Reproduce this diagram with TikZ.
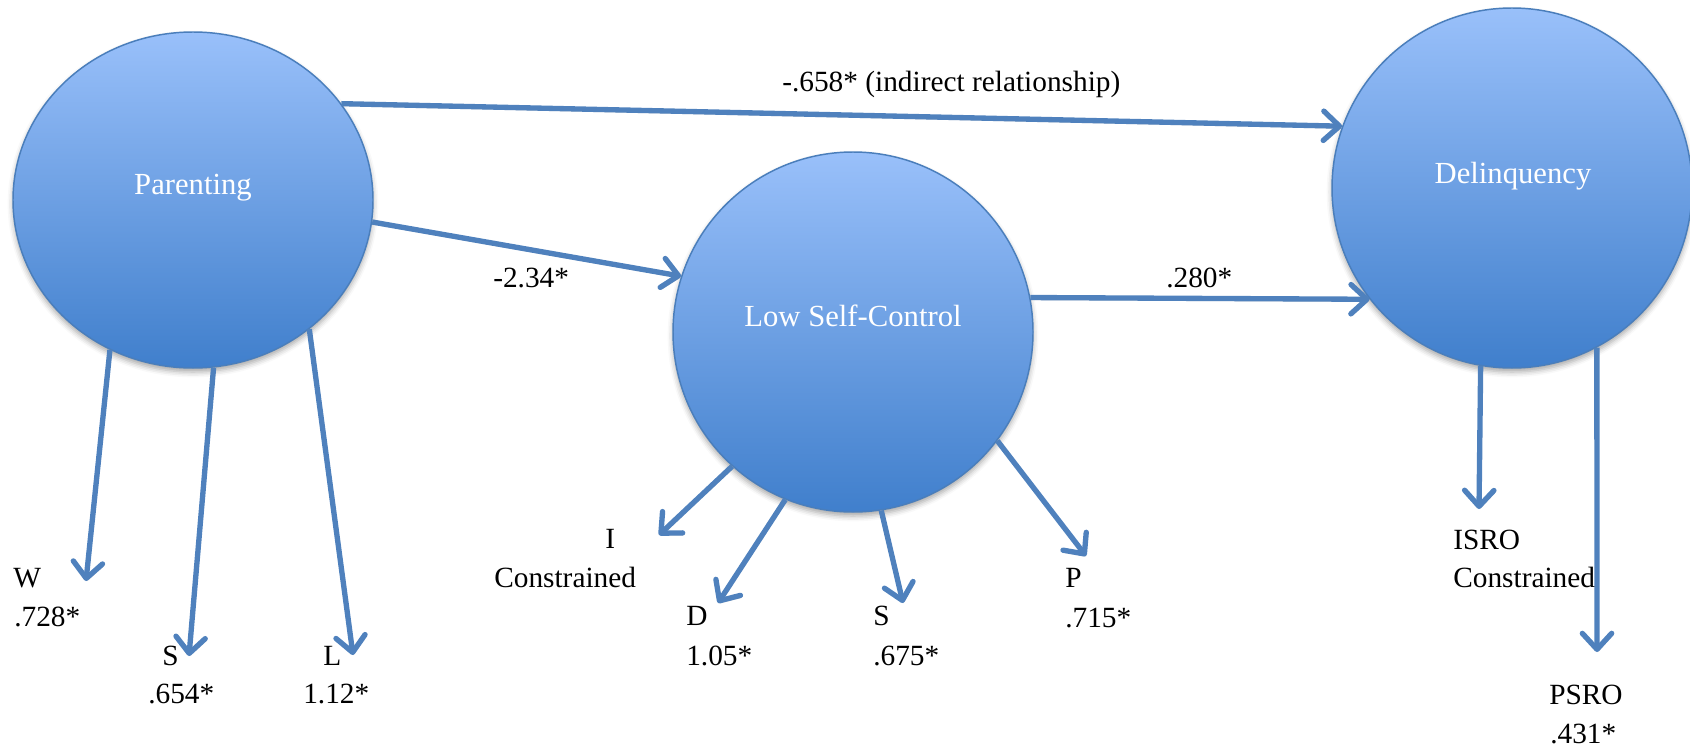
\documentclass[tikz,border=0pt]{standalone}
\usepackage{fontspec}
\setmainfont{Liberation Serif}
\usetikzlibrary{arrows.meta,shapes.geometric,shadows.blur}

\definecolor{latTop}{RGB}{153,192,250}
\definecolor{latBot}{RGB}{64,127,204}
\definecolor{latEdge}{RGB}{74,126,187}
\definecolor{pathBlue}{RGB}{79,129,189}

\tikzset{
  latent/.style={ellipse, draw=latEdge, line width=1.1pt, top color=latTop,
    bottom color=latBot, inner sep=0pt,
    blur shadow={shadow xshift=0pt, shadow yshift=-3pt,
      shadow blur radius=4pt, shadow opacity=35}},
  lattext/.style={anchor=base, inner sep=0pt, text=white,
    font=\fontsize{23}{27}\selectfont},
  coef/.style={anchor=base west, inner sep=0pt,
    font=\fontsize{22}{26}\selectfont},
  effect/.style={draw=pathBlue, line width=4pt,
    -{Straight Barb[length=12pt, width=22pt, round]},
    preaction={draw=black, draw opacity=0.15,
      transform canvas={xshift=0.6pt, yshift=-1.8pt}}},
}

\begin{document}
\begin{tikzpicture}[x=0.75pt, y=-0.75pt]
  \useasboundingbox (0,0) rectangle (1690,751);

  % latent variables
  \node[latent, minimum width=270pt, minimum height=252pt] (par) at (193,200) {};
  \node[latent, minimum width=270pt, minimum height=270pt] (lsc) at (853,332) {};
  \node[latent, minimum width=270pt, minimum height=270pt] (del) at (1512,188) {};
  \node[lattext] (parT) at (193,194) {Parenting};
  \node[lattext] (lscT) at (853,326) {Low Self-Control};
  \node[lattext] (delT) at (1513,183) {Delinquency};

  % ends of the indicator arrows
  \coordinate (wEnd)    at (86,581);
  \coordinate (sEnd)    at (189,656);
  \coordinate (lEnd)    at (353,655);
  \coordinate (iEnd)    at (659,535);
  \coordinate (dEnd)    at (718,603);
  \coordinate (ssEnd)   at (903,603);
  \coordinate (pEnd)    at (1086,556);
  \coordinate (isroEnd) at (1479,509);
  \coordinate (psroEnd) at (1597,652);

  % structural paths
  \draw[effect] (par.33) -- (del.160.6);
  \draw[effect] (par.-7.5) -- (lsc.162);
  \draw[effect] (lsc.11.4) -- (del.-142.7);

  % measurement paths
  \draw[effect] (par.-119.5) -- (wEnd);
  \draw[effect] (par.-83.5) -- (sEnd);
  \draw[effect] (par.-48.75) -- (lEnd);
  \draw[effect] (lsc.-132.9) -- (iEnd);
  \draw[effect] (lsc.-112.4) -- (dEnd);
  \draw[effect] (lsc.-81.8) -- (ssEnd);
  \draw[effect] (lsc.-37.4) -- (pEnd);
  \draw[effect] (del.-100.4) -- (isroEnd);
  \draw[effect] (del.-62) -- (psroEnd);

  % path coefficients
  \node[coef] (cInd) at (782,91) {-.658* (indirect relationship)};
  \node[coef] (cPL)  at (493,287) {-2.34*};
  \node[coef] (cLD)  at (1166,287) {.280*};

  % parenting indicators
  \node[coef] (wN)  at (13,587)  {W};
  \node[coef] (wV)  at (14,626)  {.728*};
  \node[coef] (sN)  at (162,665) {S};
  \node[coef] (sV)  at (148,703) {.654*};
  \node[coef] (lN)  at (323,665) {L};
  \node[coef] (lV)  at (303,703) {1.12*};

  % self-control indicators
  \node[coef] (iN)  at (605,548) {I};
  \node[coef] (iV)  at (494,587) {Constrained};
  \node[coef] (dN)  at (686,625) {D};
  \node[coef] (dV)  at (686,665) {1.05*};
  \node[coef] (ssN) at (873,625) {S};
  \node[coef] (ssV) at (873,665) {.675*};
  \node[coef] (pN)  at (1065,587) {P};
  \node[coef] (pV)  at (1065,627) {.715*};

  % delinquency indicators
  \node[coef] (isroN) at (1453,549) {ISRO};
  \node[coef] (isroV) at (1453,587) {Constrained};
  \node[coef] (psroN) at (1549,704) {PSRO};
  \node[coef] (psroV) at (1550,743) {.431*};
\end{tikzpicture}
\end{document}
